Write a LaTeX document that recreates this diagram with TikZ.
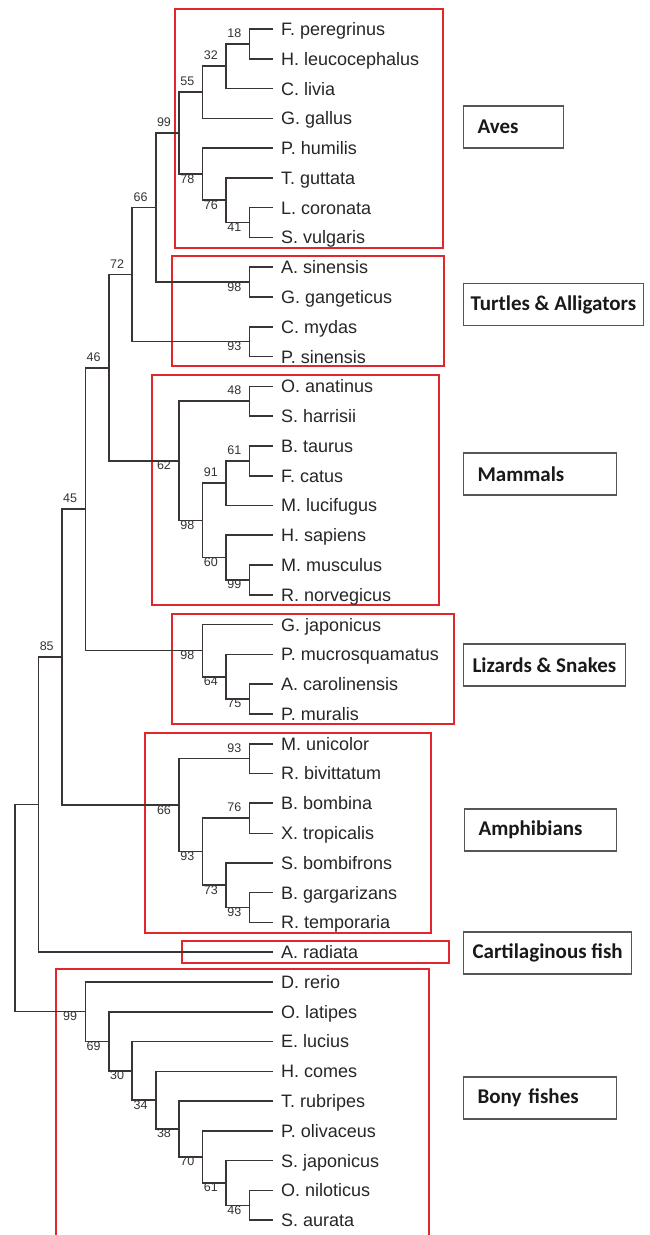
\documentclass[tikz,border=0pt]{standalone}
\usepackage{fontspec}
\setmainfont{Liberation Sans}
\newfontfamily\grpfont{Carlito}
\usepackage{tikz}
\definecolor{treegray}{HTML}{3B3434}
\definecolor{boxred}{HTML}{E3262C}
\definecolor{grpedge}{HTML}{5A5555}

\begin{document}
\begin{tikzpicture}[x=1pt,y=-1pt,
      branch/.style={draw=treegray,line width=1.6pt},
      leaf/.style={anchor=west,inner xsep=8pt,inner ysep=0pt,text height=12.9pt,text depth=0pt,
        font=\fontsize{18}{20}\selectfont,text=black!85},
      bsup/.style={anchor=south east,inner sep=0pt,xshift=-8pt,yshift=6pt,
        font=\fontsize{12.5}{14}\selectfont,text=black!80},
      bsdn/.style={bsup,anchor=north east,yshift=-6pt},
      clade/.style={draw=boxred,line width=1.7pt},
      grp/.style={draw=grpedge,line width=1.1pt,anchor=west,minimum height=42pt,align=left,
        inner xsep=14pt,font=\grpfont\bfseries\fontsize{21}{24}\selectfont,text=black!90}]
  \useasboundingbox[fill=white] (0,0) rectangle (649,1235);

  \draw[clade] (175,9) rectangle (443,248);
  \draw[clade] (172,256) rectangle (444,366);
  \draw[clade] (152,375) rectangle (439,605);
  \draw[clade] (172,614) rectangle (454,724);
  \draw[clade] (145,733) rectangle (431,933);
  \draw[clade] (182,941) rectangle (449,963);
  \draw[clade] (56,1240) |- (429,969) -- (429,1240);

  \begin{scope}[x=23.45pt,y=-29.78pt,shift={(15pt,-29pt)}]
    \foreach \n/\t [count=\i from 0] in {fper/F. peregrinus, hleu/H. leucocephalus, cliv/C. livia,
        ggal/G. gallus, phum/P. humilis, tgut/T. guttata, lcor/L. coronata, svul/S. vulgaris,
        asin/A. sinensis, ggan/G. gangeticus, cmyd/C. mydas, psin/P. sinensis,
        oana/O. anatinus, shar/S. harrisii, btau/B. taurus, fcat/F. catus, mluc/M. lucifugus,
        hsap/H. sapiens, mmus/M. musculus, rnor/R. norvegicus,
        gjap/G. japonicus, pmuc/P. mucrosquamatus, acar/A. carolinensis, pmur/P. muralis,
        muni/M. unicolor, rbiv/R. bivittatum, bbom/B. bombina, xtro/X. tropicalis,
        sbom/S. bombifrons, bgar/B. gargarizans, rtem/R. temporaria,
        arad/A. radiata,
        drer/D. rerio, olat/O. latipes, eluc/E. lucius, hcom/H. comes, trub/T. rubripes,
        poli/P. olivaceus, sjap/S. japonicus, onil/O. niloticus, saur/S. aurata}
      \node[leaf] (\n) at (11,\i) {\t};

    \foreach \n/\k/\f/\v/\s in {a18/10/0.5/18/bsup, a32/9/1.25/32/bsup, a55/8/2.125/55/bsup,
        a41/10/6.5/41/bsdn, a76/9/5.75/76/bsdn, a78/8/4.875/78/bsdn, a99/7/3.5/99/bsup,
        t98/10/8.5/98/bsdn, t66/6/6/66/bsup, t93/10/10.5/93/bsdn, t72/5/8.25/72/bsup,
        m48/10/12.5/48/bsup, m61/10/14.5/61/bsup, m91/9/15.25/91/bsup, m99/10/18.5/99/bsdn,
        m60/9/17.75/60/bsdn, m98/8/16.5/98/bsdn, m62/7/14.5/62/bsdn, n46/4/11.375/46/bsup,
        l75/10/22.5/75/bsdn, l64/9/21.75/64/bsdn, l98/8/20.875/98/bsdn, n45/3/16.125/45/bsup,
        p93a/10/24.5/93/bsup, p76/10/26.5/76/bsup, p93c/10/29.5/93/bsdn, p73/9/28.75/73/bsdn,
        p93b/8/27.625/93/bsdn, p66/7/26.0625/66/bsdn, n85/2/21.09375/85/bsup,
        f46/10/39.5/46/bsdn, f61/9/38.75/61/bsdn, f70/8/37.875/70/bsdn, f38/7/36.9375/38/bsdn,
        f34/6/35.96875/34/bsdn, f30/5/34.984375/30/bsdn, f69/4/33.9921875/69/bsdn,
        f99/3/32.99609375/99/bsdn}
      {\coordinate (\n) at (\k,\f);
       \node[\s] (v\n) at (\n) {\v};}
    \coordinate (n1) at (1,26.046875);
    \coordinate (root) at (0,29.521484375);

    \foreach \p/\c in {a18/fper.west, a18/hleu.west, a32/a18, a32/cliv.west, a55/a32, a55/ggal.west,
        a41/lcor.west, a41/svul.west, a76/tgut.west, a76/a41, a78/phum.west, a78/a76,
        a99/a55, a99/a78, t98/asin.west, t98/ggan.west, t66/a99, t66/t98,
        t93/cmyd.west, t93/psin.west, t72/t66, t72/t93,
        m48/oana.west, m48/shar.west, m61/btau.west, m61/fcat.west, m91/m61, m91/mluc.west,
        m99/mmus.west, m99/rnor.west, m60/hsap.west, m60/m99, m98/m91, m98/m60,
        m62/m48, m62/m98, n46/t72, n46/m62,
        l75/acar.west, l75/pmur.west, l64/pmuc.west, l64/l75, l98/gjap.west, l98/l64,
        n45/n46, n45/l98,
        p93a/muni.west, p93a/rbiv.west, p76/bbom.west, p93c/bgar.west, p93c/rtem.west,
        p73/sbom.west, p73/p93c, p93b/p76, p93b/p73, p66/p93a, p66/p93b,
        n85/n45, n85/p66, n1/n85, n1/arad.west,
        f46/onil.west, f46/saur.west, f61/sjap.west, f61/f46, f70/poli.west, f70/f61,
        f38/trub.west, f38/f70, f34/hcom.west, f34/f38, f30/eluc.west, f30/f34,
        f69/olat.west, f69/f30, f99/drer.west, f99/f69, root/n1, root/f99}
      \draw[branch] (\p) |- (\c);
    \draw[branch,line width=0.7pt] (p76) |- (xtro.west);
  \end{scope}

  \node[grp,text width=72pt] (aves) at (463,127) {Aves};
  \node[grp,inner xsep=7pt] (turtles) at (463,304.5) {Turtles \& Alligators};
  \node[grp,text width=125pt] (mammals) at (463,474) {Mammals};
  \node[grp,inner xsep=9pt] (lizards) at (463,665) {Lizards \& Snakes};
  \node[grp,text width=124pt] (amphib) at (464,830) {Amphibians};
  \node[grp,inner xsep=9pt] (cartil) at (463,953) {Cartilaginous fish};
  \node[grp,text width=125pt] (bony) at (463,1098) {Bony fishes};
\end{tikzpicture}
\end{document}
